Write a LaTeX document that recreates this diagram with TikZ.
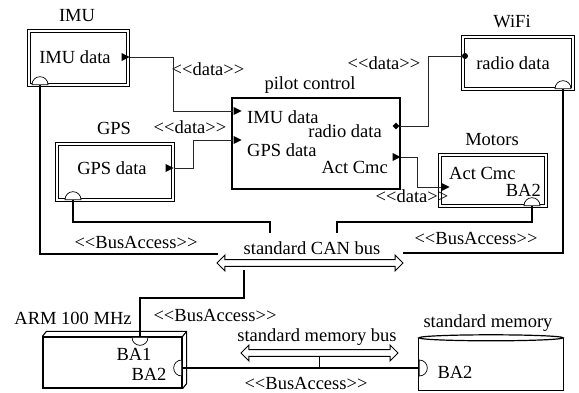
\documentclass[tikz,border=0pt]{standalone}
\usepackage{fontspec}
\setmainfont{Liberation Serif}
\usetikzlibrary{shapes.geometric,shapes.arrows,positioning}

\tikzstyle{txt}=[inner sep=1pt, font=\fontsize{18.5}{20}\selectfont]
\tikzstyle{component}=[rectangle,
                       draw=black,
                       double,
                       double distance=1.2pt,
                       line width=1.2pt]
\tikzstyle{pcbox}=[rectangle, draw=black, line width=1.2pt]
\tikzstyle{outport}=[isosceles triangle, fill=black, inner sep=0pt,
                     minimum height=8pt, minimum width=8pt,
                     isosceles triangle stretches]
\tikzstyle{diaport}=[diamond, fill=black, inner sep=0pt, minimum size=7pt]
\tikzstyle{bulletport}=[circle, fill=black, inner sep=0pt, minimum size=6pt]
\tikzstyle{baport}=[semicircle, draw=black, fill=white, inner sep=0pt,
                    minimum size=8pt, line width=0.7pt, anchor=chord center]
\tikzstyle{busarrow}=[double arrow, draw=black, fill=white, line width=1pt,
                      inner xsep=0pt, inner ysep=2.8pt,
                      double arrow head extend=4.5pt]
\tikzstyle{datalink}=[line width=0.8pt, black!85]
\tikzstyle{buslink}=[line width=1.2pt]

\begin{document}
\begin{tikzpicture}[x=1pt, y=-1pt]
\useasboundingbox (0,0) rectangle (579,392);
\clip (0,0) rectangle (579,392);

% components
\node at (78.5,  58)   (imu)    [component, minimum width=99pt,  minimum height=54pt] {};
\node at (115,  172)   (gps)    [component, minimum width=116pt, minimum height=56pt] {};
\node at (518,   63)   (wifi)   [component, minimum width=110pt, minimum height=52pt] {};
\node at (493, 180.5)  (motors) [component, minimum width=106pt, minimum height=51pt] {};
\node at (316, 143.5)  (pilot)  [pcbox, minimum width=168pt, minimum height=91pt] {};
\node at (112.5, 362.5) (arm)   [pcbox, minimum width=139pt, minimum height=51pt] {};
\draw[line width=1.1pt] (arm.north west) -- ++(4,-5) -- ([shift={(4,-5)}]arm.north east)
      -- ([shift={(4,-5)}]arm.south east) -- (arm.south east);
\draw[line width=1.1pt] (arm.north east) -- ++(4,-5);
\node at (491, 364)    (mem)    [minimum width=144pt, minimum height=52pt] {};
\draw[line width=1.2pt] (mem.north west) -- (mem.south west) -- (mem.south east) -- (mem.north east);
\draw[line width=1.2pt] (mem.north) ellipse [x radius=72pt, y radius=3pt];

% titles
\node at (77,   16) (imu_title)    [txt] {IMU};
\node at (114, 128) (gps_title)    [txt] {GPS};
\node at (512,  22) (wifi_title)   [txt] {WiFi};
\node at (492, 140) (motors_title) [txt] {Motors};
\node at (310,  85) (pilot_title)  [txt] {pilot control};
\node at (73,  318) (arm_title)    [txt] {ARM 100 MHz};
\node at (488, 323) (mem_title)    [txt] {standard memory};

% texts inside
\node at (75,   57) (imu_txt)      [txt] {IMU data};
\node at (112, 168) (gps_txt)      [txt] {GPS data};
\node at (513,  63) (wifi_txt)     [txt] {radio data};
\node at (448, 173) (motors_act)   [txt, anchor=west] {Act Cmc};
\node at (542, 190) (motors_ba2)   [txt, anchor=east] {BA2};
\node at (246, 117) (pilot_imu)    [txt, anchor=west] {IMU data};
\node at (383, 131) (pilot_radio)  [txt, anchor=east] {radio data};
\node at (246, 150) (pilot_gps)    [txt, anchor=west] {GPS data};
\node at (389, 167) (pilot_act)    [txt, anchor=east] {Act Cmc};
\node at (134, 354) (arm_ba1_txt)  [txt] {BA1};
\node at (149, 374) (arm_ba2_txt)  [txt] {BA2};
\node at (455, 372) (mem_ba2_txt)  [txt] {BA2};

% buses
\node at (310,   263) (canbus) [busarrow, minimum height=186pt] {};
\node at (319.5, 353) (membus) [busarrow, minimum height=157pt] {};
\node at (312, 248) (canbus_lbl) [txt] {standard CAN bus};
\node at (317, 337) (membus_lbl) [txt] {standard memory bus};

% stereotypes
\node at (208,  69) (data_imu)   [txt] {<{}<data>{}>};
\node at (190, 127) (data_gps)   [txt] {<{}<data>{}>};
\node at (384,  63) (data_radio) [txt] {<{}<data>{}>};
\node at (412, 196) (data_act)   [txt] {<{}<data>{}>};
\node at (136, 242) (ba_left)    [txt] {<{}<BusAccess>{}>};
\node at (476, 238) (ba_right)   [txt] {<{}<BusAccess>{}>};
\node at (215, 315) (ba_arm)     [txt] {<{}<BusAccess>{}>};
\node at (306, 383) (ba_mem)     [txt] {<{}<BusAccess>{}>};

% ports
\node at (124,  57) (imu_out)    [outport] {};
\node at (168, 168) (gps_out)    [outport] {};
\node at (395, 157) (act_out)    [outport] {};
\node at (396, 126) (radio_out)  [diaport] {};
\node at (236, 111) (pilot_in1)  [outport] {};
\node at (236, 140) (pilot_in2)  [outport] {};
\node at (444, 187) (motors_in)  [outport] {};
\node at (465,  56) (wifi_in)    [bulletport] {};

\coordinate (can_l)  at (218, 254);
\coordinate (can_r)  at (403, 253);
\coordinate (can_tl) at (270, 233);
\coordinate (can_tr) at (337, 233);
\coordinate (can_b)  at (244, 270);

% data links
\draw[datalink] (imu_out.east) -- ++(43,0) |- (pilot_in1.west);
\draw[datalink] (gps_out.east) -- ++(19,0) |- (pilot_in2.west);
\draw[datalink] (radio_out.east) -- ++(29,0) |- (wifi_in.west);
\draw[datalink] (act_out.east) -- ++(16,0) |- (motors_in.west);

% bus access ports
\coordinate (imu_ba_c)    at (40,   85);
\coordinate (gps_ba_c)    at (73,  200);
\coordinate (motors_ba_c) at (532, 206);
\coordinate (wifi_ba_c)   at (563,  89);
\coordinate (arm_ba1_c)   at (140, 337);
\coordinate (arm_ba2_c)   at (182, 368);
\coordinate (mem_ba_c)    at (419, 368);

% bus access links
\draw[buslink] (imu_ba_c) |- (can_l);
\draw[buslink] (gps_ba_c) -- ++(0,22) -| (can_tl);
\draw[buslink] (motors_ba_c) -- ++(0,16) -| (can_tr);
\draw[buslink] (wifi_ba_c) |- (can_r);
\draw[buslink] (arm_ba1_c) -- ++(0,-39) -| (can_b);
\draw[buslink] (arm_ba2_c) -- (mem_ba_c);
\draw[buslink] (membus.south) -- (membus.south |- arm_ba2_c);

\node at (imu_ba_c)    (imu_ba)    [baport] {};
\node at (gps_ba_c)    (gps_ba)    [baport] {};
\node at (motors_ba_c) (motors_ba) [baport] {};
\node at (wifi_ba_c)   (wifi_ba)   [baport] {};
\node at (arm_ba1_c)   (arm_ba1)   [baport, shape border rotate=180] {};
\node at (arm_ba2_c)   (arm_ba2)   [baport, shape border rotate=90] {};
\node at (mem_ba_c)    (mem_ba)    [baport, shape border rotate=270] {};
\end{tikzpicture}
\end{document}
